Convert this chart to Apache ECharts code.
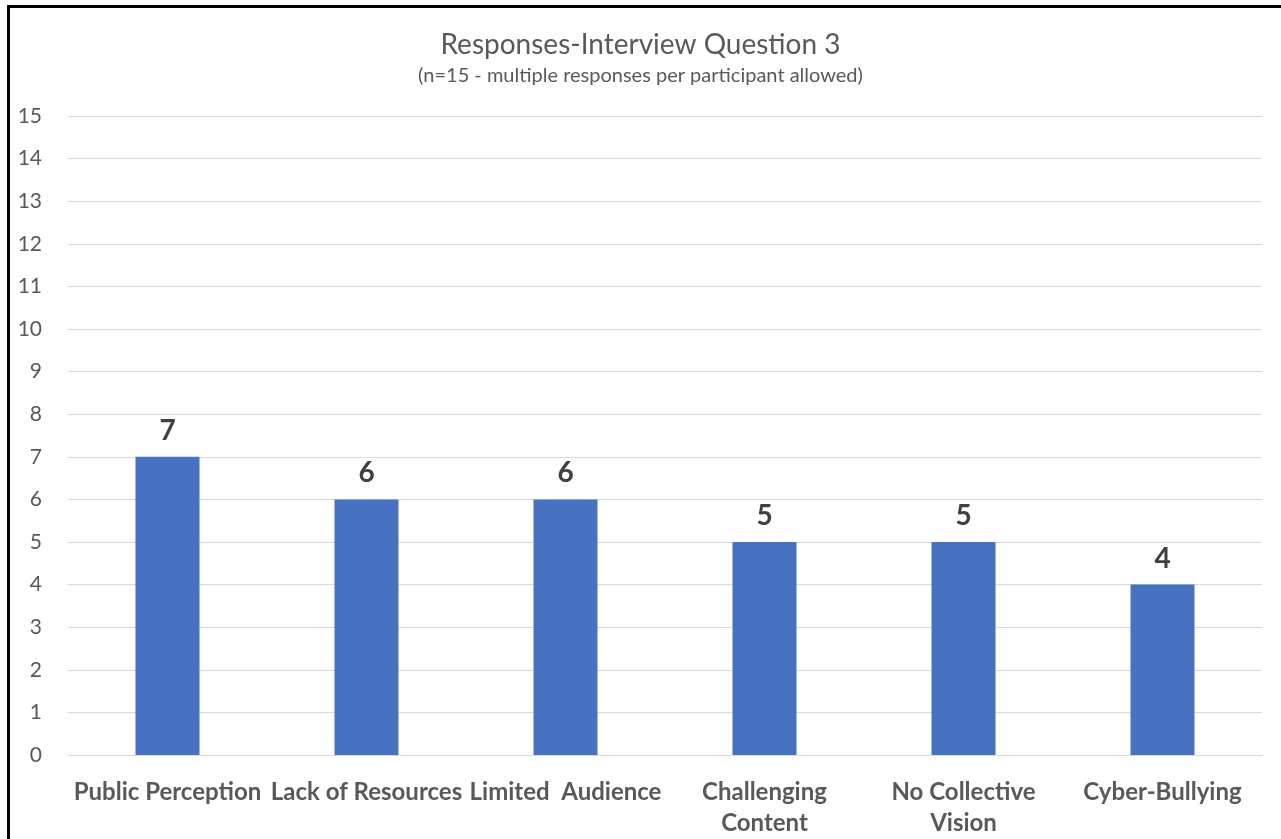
<!DOCTYPE html>
<html>
<head>
<meta charset="utf-8">
<script src="https://cdn.jsdelivr.net/npm/echarts@6/dist/echarts.min.js"></script>
<style>
  html, body { margin: 0; padding: 0; background: #fff; }
  #chart { width: 1281px; height: 839px; }
  #frame {
    position: absolute; left: 7px; top: 5px; right: 0; bottom: 0;
    border-left: 3px solid #000; border-top: 3px solid #000;
    pointer-events: none;
  }
</style>
</head>
<body>
<div id="chart"></div>
<div id="frame"></div>
<script>
// Interview question 3: count of responses per theme
const categories = [
  'Public Perception',
  'Lack of Resources',
  'Limited  Audience',
  'Challenging\nContent',
  'No Collective\nVision',
  'Cyber-Bullying'
];
const responseCounts = [7, 6, 6, 5, 5, 4];
const yTicks = { min: 0, max: 15, interval: 1 };

const FONT = 'Lato, "Noto Sans", sans-serif';

const chart = echarts.init(document.getElementById('chart'), null, { renderer: 'canvas' });
chart.setOption({
  backgroundColor: '#ffffff',
  animation: false,
  title: {
    text: 'Responses-Interview Question 3',
    subtext: '(n=15 - multiple responses per participant allowed)',
    left: 'center',
    top: 26,
    itemGap: 7,
    textStyle: { fontFamily: FONT, fontSize: 28, fontWeight: 'normal', color: '#595959' },
    subtextStyle: { fontFamily: FONT, fontSize: 20, color: '#595959' }
  },
  grid: { left: 68, right: 19, top: 116, bottom: 80, containLabel: false },
  xAxis: {
    type: 'category',
    data: categories,
    axisLine: { show: true, lineStyle: { color: '#d9d9d9', width: 1 } },
    axisTick: { show: false },
    axisLabel: {
      interval: 0,
      margin: 22,
      fontFamily: FONT,
      fontSize: 24,
      fontWeight: 'bold',
      color: '#595959',
      lineHeight: 31
    }
  },
  yAxis: {
    type: 'value',
    min: yTicks.min,
    max: yTicks.max,
    interval: yTicks.interval,
    axisLine: { show: false },
    axisTick: { show: false },
    splitLine: { lineStyle: { color: '#d9d9d9', width: 1 } },
    axisLabel: { margin: 26, fontFamily: FONT, fontSize: 21, color: '#595959' }
  },
  series: [{
    type: 'bar',
    data: responseCounts,
    barWidth: 64,
    itemStyle: { color: '#4672c1' },
    label: {
      show: true,
      position: 'top',
      distance: 12,
      fontFamily: FONT,
      fontSize: 28,
      fontWeight: 'bold',
      color: '#404040'
    }
  }]
});
</script>
</body>
</html>
